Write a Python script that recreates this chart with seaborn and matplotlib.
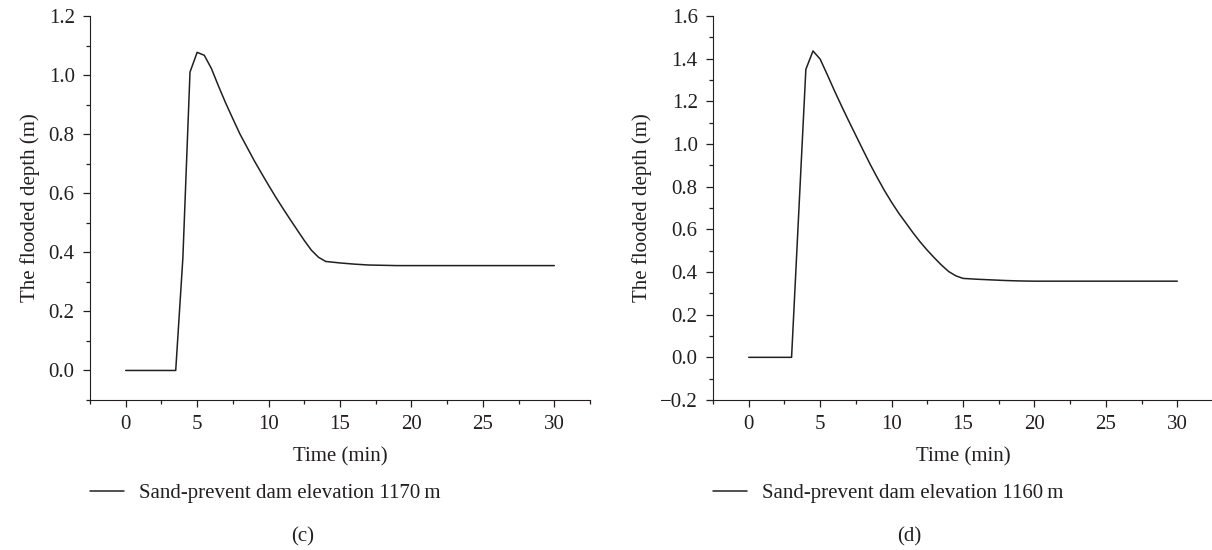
"""Flooded depth over time behind the sand-prevent dam, panels (c) and (d)."""

import matplotlib
matplotlib.use("Agg")
import matplotlib.pyplot as plt
import pandas as pd
import seaborn as sns
from matplotlib.ticker import MultipleLocator

# Panel (c): dam elevation 1170 m
time_c = [0, 3.5, 4.0, 4.5, 5.0, 5.5, 6.0, 6.5, 7.0, 7.5, 8.0, 8.5, 9.0, 9.5,
          10.0, 10.5, 11.0, 11.5, 12.0, 12.5, 13.0, 13.5, 14.0, 15.0, 16.0,
          17.0, 18.0, 19.0, 20.0, 25.0, 30.0]
depth_c = [0.0, 0.0, 0.38, 1.01, 1.077, 1.067, 1.022, 0.962, 0.905, 0.852, 0.80,
           0.755, 0.71, 0.668, 0.627, 0.587, 0.549, 0.512, 0.476, 0.440, 0.407,
           0.383, 0.369, 0.364, 0.360, 0.357, 0.356, 0.355, 0.355, 0.355, 0.355]

# Panel (d): dam elevation 1160 m
time_d = [0, 3.0, 4.0, 4.5, 5.0, 5.5, 6.0, 6.5, 7.0, 7.5, 8.0, 8.5, 9.0, 9.5,
          10.0, 10.5, 11.0, 11.5, 12.0, 12.5, 13.0, 13.5, 14.0, 14.5, 15.0,
          16.0, 17.0, 18.0, 19.0, 20.0, 25.0, 30.0]
depth_d = [0.0, 0.0, 1.35, 1.436, 1.398, 1.325, 1.25, 1.178, 1.108, 1.04, 0.972,
           0.905, 0.842, 0.782, 0.727, 0.676, 0.63, 0.584, 0.541, 0.502, 0.466,
           0.432, 0.402, 0.382, 0.37, 0.366, 0.363, 0.36, 0.358, 0.357, 0.357,
           0.357]

PANELS = [
    ("(c)", time_c, depth_c, "Sand-prevent dam elevation 1170\u2009m", (-0.1, 1.2)),
    ("(d)", time_d, depth_d, "Sand-prevent dam elevation 1160\u2009m", (-0.2, 1.6)),
]

INK = "#231f20"

sns.set_style("ticks")
plt.rcParams["font.family"] = ["Liberation Serif", "DejaVu Serif"]
plt.rcParams["font.size"] = 15
plt.rcParams["text.color"] = INK
plt.rcParams["axes.labelcolor"] = INK
plt.rcParams["xtick.color"] = INK
plt.rcParams["ytick.color"] = INK
plt.rcParams["axes.edgecolor"] = INK

fig = plt.figure(figsize=(12.12, 5.5), dpi=100)
W, H = 1212, 550
boxes = [(90, 16, 590, 400), (713, 16, 1213, 400)]

for (tag, t, d, label, ylim), (x0, y0, x1, y1), half in zip(PANELS, boxes, (0, 606)):
    ax = fig.add_axes([x0 / W, 1 - y1 / H, (x1 - x0) / W, (y1 - y0) / H])
    df = pd.DataFrame({"Time (min)": t, "depth": d})
    sns.lineplot(data=df, x="Time (min)", y="depth", ax=ax, color=INK,
                 linewidth=1.1, label=label)
    ax.set_xlim(-2.5, 32.5)
    ax.set_ylim(*ylim)
    ax.xaxis.set_major_locator(MultipleLocator(5))
    ax.xaxis.set_minor_locator(MultipleLocator(2.5))
    ax.yaxis.set_major_locator(MultipleLocator(0.2))
    ax.yaxis.set_minor_locator(MultipleLocator(0.1))
    ax.yaxis.set_major_formatter(
        plt.FuncFormatter(lambda v, _: f"{v:.1f}".replace("-", "\u2212")))
    ax.tick_params(which="major", length=5, width=0.9, pad=6)
    ax.tick_params(which="minor", length=3, width=0.9)
    for s in ("top", "right"):
        ax.spines[s].set_visible(False)
    ax.set_xlabel("Time (min)", labelpad=9)
    ax.set_ylabel("The flooded depth (m)", labelpad=6)
    ax.legend(loc="center left", bbox_to_anchor=(x0 / W, 1 - 493 / H),
              bbox_transform=fig.transFigure, frameon=False, borderpad=0,
              borderaxespad=0, handlelength=1.65, handletextpad=0.7)
    fig.text((half + 303) / W, 1 - 537 / H, tag, ha="center", va="center")

fig.savefig("out.png", dpi=100)
